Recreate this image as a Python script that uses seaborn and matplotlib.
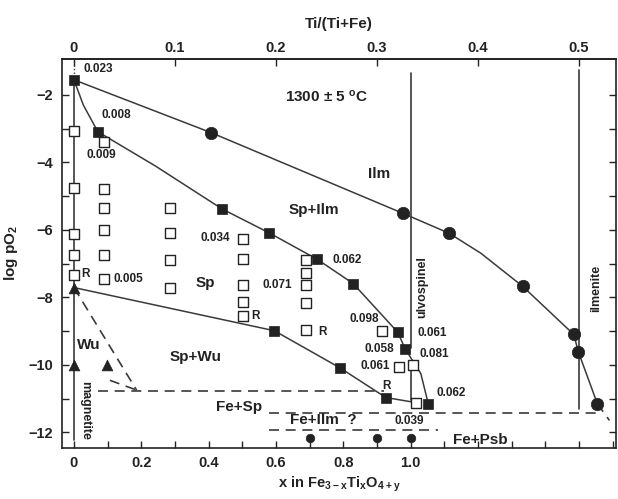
import numpy as np
import pandas as pd
import matplotlib.pyplot as plt
import seaborn as sns

# ---- data (x in Fe3-xTixO4+y, log pO2) ----
ilm_curve_x = [0, 0.408, 0.977, 1.114, 1.208, 1.332, 1.484, 1.498, 1.554]
ilm_curve_y = [-1.55, -3.12, -5.51, -6.10, -6.69, -7.67, -9.10, -9.62, -11.15]

spilm_curve_x = [0, 0.028, 0.071, 0.241, 0.44, 0.58, 0.722, 0.829, 0.962, 0.983, 1.03, 1.052]
spilm_curve_y = [-1.55, -2.30, -3.09, -4.10, -5.38, -6.09, -6.87, -7.59, -9.04, -9.52, -10.26, -11.15]

spwu_curve_x = [0, 0.595, 0.79, 0.926, 1.015]
spwu_curve_y = [-7.71, -8.99, -10.09, -10.97, -11.12]

circle_x = [0.408, 0.977, 1.114, 1.332, 1.484, 1.498, 1.554]
circle_y = [-3.12, -5.51, -6.10, -7.67, -9.10, -9.62, -11.15]

filled_sq_x = [0, 0.071, 0.44, 0.58, 0.722, 0.829, 0.962, 0.983, 1.052, 0.595, 0.79, 0.926]
filled_sq_y = [-1.55, -3.09, -5.38, -6.09, -6.87, -7.59, -9.04, -9.52, -11.15, -8.99, -10.09, -10.97]

open_sq_x = [0, 0, 0, 0, 0,
             0.088, 0.088, 0.088, 0.088, 0.088, 0.088,
             0.286, 0.286, 0.286, 0.286,
             0.502, 0.502, 0.502, 0.502, 0.502,
             0.69, 0.69, 0.69, 0.69, 0.69,
             0.914, 0.966, 1.007, 1.015]
open_sq_y = [-3.07, -4.77, -6.12, -6.75, -7.34,
             -3.40, -4.79, -5.36, -6.0, -6.75, -7.46,
             -5.36, -6.10, -6.88, -7.71,
             -6.27, -6.85, -7.62, -8.13, -8.56,
             -6.9, -7.29, -7.64, -8.18, -8.97,
             -8.99, -10.08, -10.01, -11.12]

tri_x = [0, 0, 0.097]
tri_y = [-7.71, -10.01, -10.01]

psb_x = [0.702, 0.90, 1.0]
psb_y = [-12.17, -12.17, -12.17]

# dashed boundaries (segment id, x, y)
dash_seg = [0, 0, 1, 1, 2, 2, 3, 3, 4, 4, 5, 5]
dash_x = [0.072, 0.92, 0.58, 1.55, 0.58, 1.08, 0.0, 0.186, 0.107, 0.186, 1.554, 1.59]
dash_y = [-10.77, -10.77, -11.42, -11.42, -11.94, -11.94, -7.71, -10.75, -10.46, -10.75, -11.15, -11.65]

# solid vertical composition lines
vert_seg = [0, 0, 1, 1, 2, 2, 3, 3]
vert_x = [0, 0, 1.0, 1.0, 1.0, 1.0, 1.5, 1.5]
vert_y = [-1.55, -12.22, -1.35, -9.5, -10.16, -11.05, -1.26, -11.3]

# annotations: text, x, y
note_text = ['0.023', '0.008', '0.009', '0.034', '0.062', '0.071', 'R', '0.005', 'R', 'R',
             '0.098', '0.061', '0.058', '0.081', '0.061', 'R', '0.062', '0.039']
note_x = [0.072, 0.127, 0.082, 0.42, 0.81, 0.603, 0.035, 0.162, 0.539, 0.737,
          0.861, 1.065, 0.906, 1.07, 0.896, 0.928, 1.119, 0.995]
note_y = [-1.23, -2.6, -3.78, -6.24, -6.88, -7.64, -7.31, -7.46, -8.56, -9.02,
          -8.63, -9.05, -9.52, -9.69, -10.04, -10.64, -10.85, -11.66]

field_text = ['Ilm', 'Sp+Ilm', 'Sp', 'Wu', 'Sp+Wu', 'Fe+Sp', 'Fe+Ilm  ?', 'Fe+Psb']
field_x = [0.905, 0.712, 0.39, 0.043, 0.36, 0.489, 0.74, 1.208]
field_y = [-4.35, -5.41, -7.58, -9.42, -9.76, -11.25, -11.64, -12.22]

bottom_ticks = [0, 0.1, 0.2, 0.3, 0.4, 0.5, 0.6, 0.7, 0.8, 0.9, 1.0, 1.1, 1.2, 1.3, 1.4, 1.5, 1.6]
bottom_labels = ['0', '', '0.2', '', '0.4', '', '0.6', '', '0.8', '', '1.0', '', '', '', '', '', '']
top_ticks = [0, 0.1, 0.2, 0.3, 0.4, 0.5]
top_labels = ['0', '0.1', '0.2', '0.3', '0.4', '0.5']
left_ticks = [-2, -4, -6, -8, -10, -12]

sns.set_theme(style='ticks')
plt.rcParams['font.family'] = ['Liberation Sans', 'DejaVu Sans']
plt.rcParams['font.weight'] = 'bold'
plt.rcParams['mathtext.fontset'] = 'custom'
plt.rcParams['mathtext.rm'] = 'Liberation Sans'
plt.rcParams['mathtext.bf'] = 'Liberation Sans:bold'
plt.rcParams['mathtext.default'] = 'bf'

ink = '#222222'
line_c = '#3a3a3a'

fig, ax = plt.subplots(figsize=(6.18, 4.99), dpi=100)
fig.subplots_adjust(left=0.100, right=0.997, bottom=0.102, top=0.882)

# lines
sns.lineplot(x=ilm_curve_x, y=ilm_curve_y, sort=False, estimator=None, color=line_c, lw=1.1, ax=ax)
sns.lineplot(x=spilm_curve_x, y=spilm_curve_y, sort=False, estimator=None, color=line_c, lw=1.1, ax=ax)
sns.lineplot(x=spwu_curve_x, y=spwu_curve_y, sort=False, estimator=None, color=line_c, lw=1.1, ax=ax)

dash_df = pd.DataFrame({'seg': dash_seg, 'x': dash_x, 'y': dash_y})
sns.lineplot(data=dash_df, x='x', y='y', units='seg', estimator=None, sort=False,
             color=line_c, lw=1.2, linestyle=(0, (6, 4)), ax=ax)

vert_df = pd.DataFrame({'seg': vert_seg, 'x': vert_x, 'y': vert_y})
sns.lineplot(data=vert_df, x='x', y='y', units='seg', estimator=None, sort=False,
             color=line_c, lw=1.2, ax=ax)
ax.plot([0, 0], [-1.0, -1.5], color=line_c, lw=1, linestyle=':')

# markers
sns.scatterplot(x=open_sq_x, y=open_sq_y, marker='s', s=42, facecolor='white',
                edgecolor=ink, linewidth=1.0, ax=ax, zorder=4)
sns.scatterplot(x=filled_sq_x, y=filled_sq_y, marker='s', s=50, color=ink,
                edgecolor=ink, linewidth=0.5, ax=ax, zorder=5)
sns.scatterplot(x=circle_x, y=circle_y, marker='o', s=80, color=ink,
                edgecolor=ink, linewidth=0.5, ax=ax, zorder=5)
sns.scatterplot(x=tri_x, y=tri_y, marker='^', s=60, color=ink,
                edgecolor=ink, linewidth=0.5, ax=ax, zorder=5)
sns.scatterplot(x=psb_x, y=psb_y, marker='o', s=38, color=ink,
                edgecolor=ink, linewidth=0.5, ax=ax, zorder=5)

# texts
for t, x, y in zip(note_text, note_x, note_y):
    ax.text(x, y, t, fontsize=8.5, ha='center', va='center', color=ink, zorder=6)
for t, x, y in zip(field_text, field_x, field_y):
    ax.text(x, y, t, fontsize=11, ha='center', va='center', color=ink, zorder=6)
ax.text(0.75, -2.05, '1300 ± 5 $^{o}$C', fontsize=11, ha='center', va='center', color=ink)
ax.text(1.035, -7.69, 'ulvospinel', fontsize=9, rotation=90, ha='center', va='center', color=ink)
ax.text(1.55, -7.73, 'ilmenite', fontsize=9, rotation=90, ha='center', va='center', color=ink)
ax.text(0.033, -11.35, 'magnetite', fontsize=9, rotation=-90, ha='center', va='center', color=ink)

# axes
ax.set_xlim(-0.036, 1.61)
ax.set_ylim(-12.47, -0.93)
ax.set_xticks(bottom_ticks)
ax.set_xticklabels(bottom_labels)
ax.set_yticks(left_ticks)
ax.set_yticks(np.arange(-12, -1, 1), minor=True)
ax.tick_params(axis='both', which='both', direction='in', length=5, width=1,
               colors=ink, labelsize=10.5, right=True, labelright=False)
ax.tick_params(axis='y', pad=6)
ax.tick_params(axis='x', pad=6)
for sp in ax.spines.values():
    sp.set_color(ink)
    sp.set_linewidth(1.2)

top = ax.secondary_xaxis('top', functions=(lambda v: v / 3, lambda v: v * 3))
top.set_xticks(top_ticks)
top.set_xticklabels(top_labels)
top.tick_params(direction='in', length=5, width=1, colors=ink, labelsize=10.5, pad=3)
top.set_xlabel('Ti/(Ti+Fe)', fontsize=11, fontweight='bold', labelpad=9, color=ink)

ax.set_xlabel('x in Fe$_{3-x}$Ti$_x$O$_{4+y}$', fontsize=10.5, fontweight='bold', labelpad=3, color=ink)
ax.set_ylabel('log pO$_2$', fontsize=11, fontweight='bold', labelpad=6, color=ink)

fig.savefig('out.png', dpi=100)
